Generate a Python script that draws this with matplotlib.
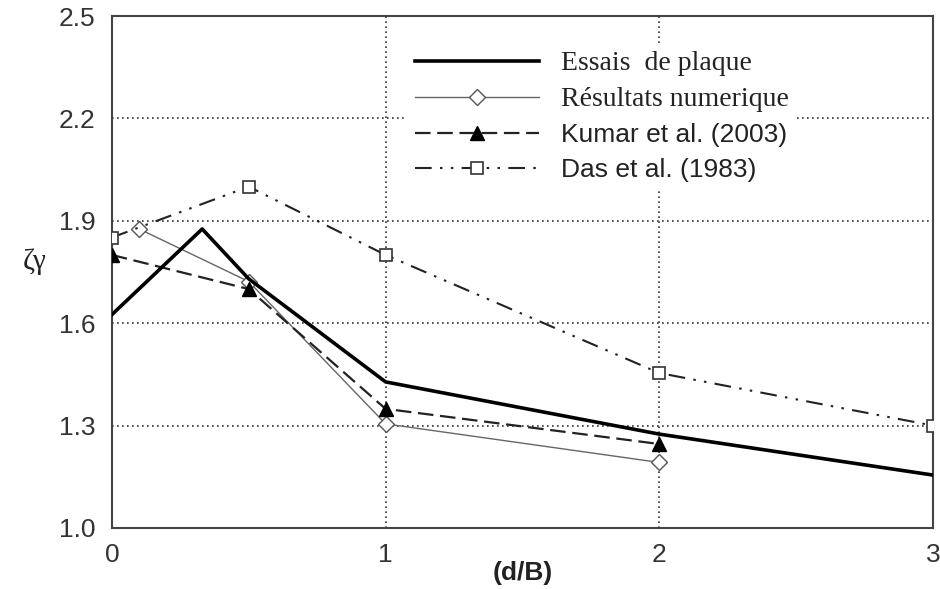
import matplotlib
matplotlib.use("Agg")
import matplotlib.pyplot as plt

# d/B values and bearing capacity factor zeta_gamma for each series
x_essais = [0, 0.33, 0.5, 1, 2, 3]
y_essais = [1.625, 1.876, 1.73, 1.428, 1.275, 1.155]

x_num = [0.1, 0.5, 1, 2]
y_num = [1.876, 1.722, 1.305, 1.192]

x_kumar = [0, 0.5, 1, 2]
y_kumar = [1.80, 1.70, 1.349, 1.246]

x_das = [0, 0.5, 1, 2, 3]
y_das = [1.851, 2.0, 1.80, 1.454, 1.30]

xticks = [0, 1, 2, 3]
yticks = [1.0, 1.3, 1.6, 1.9, 2.2, 2.5]

plt.rcParams['font.family'] = ['Liberation Sans', 'DejaVu Sans']

fig = plt.figure(figsize=(9.4, 5.89), dpi=100)
ax = fig.add_axes([0.119, 0.1036, 0.8736, 0.8692])

ax.plot(x_essais, y_essais, color='black', lw=2.6, label='Essais  de plaque', zorder=4)
ax.plot(x_num, y_num, color='#666666', lw=1.0, marker='D', markersize=8,
        markerfacecolor='white', markeredgecolor='#555555', markeredgewidth=1.0,
        label='Résultats numerique', zorder=3)
ax.plot(x_kumar, y_kumar, color='#222222', lw=1.6, dashes=(7, 3), marker='^',
        markersize=10, markerfacecolor='black', markeredgecolor='black',
        label='Kumar et al. (2003)', zorder=3)
ax.plot(x_das, y_das, color='#222222', lw=1.5, dashes=(8, 4, 1.2, 4, 1.2, 4),
        marker='s', markersize=9, markerfacecolor='white', markeredgecolor='#333333',
        markeredgewidth=1.2, label='Das et al. (1983)', zorder=3)

ax.set_xlim(0, 3)
ax.set_ylim(1.0, 2.5)
ax.set_xticks(xticks)
ax.set_yticks(yticks)
ax.set_yticklabels([f'{v:.1f}' for v in yticks])
ax.tick_params(length=0, labelsize=19, labelcolor='#333333')
ax.tick_params(axis='y', pad=12)
ax.tick_params(axis='x', pad=11)

ax.grid(True, ls=(0, (1, 2)), color='#333333', lw=1.2)
for s in ax.spines.values():
    s.set_color('#444444')
    s.set_linewidth(1.5)

ax.set_xlabel('(d/B)', fontsize=19, fontweight='bold', color='#222222', va='center')
ax.xaxis.set_label_coords(0.5, -0.088)
ax.set_ylabel('ζγ', rotation=0, fontsize=21, family='Liberation Serif', color='#222222',
              va='center')
ax.yaxis.set_label_coords(-0.094, 0.52)

leg = ax.legend(loc='upper left', bbox_to_anchor=(0.36, 0.947), borderaxespad=0,
                frameon=True, facecolor='white', edgecolor='none', framealpha=1,
                fontsize=19, handlelength=4.7, handletextpad=0.8, labelspacing=0.42,
                borderpad=0.3)
for i, t in enumerate(leg.get_texts()):
    t.set_color('#222222')
    if i < 2:
        t.set_family('Liberation Serif')
        t.set_fontsize(20)

fig.savefig('out.png', dpi=100)
